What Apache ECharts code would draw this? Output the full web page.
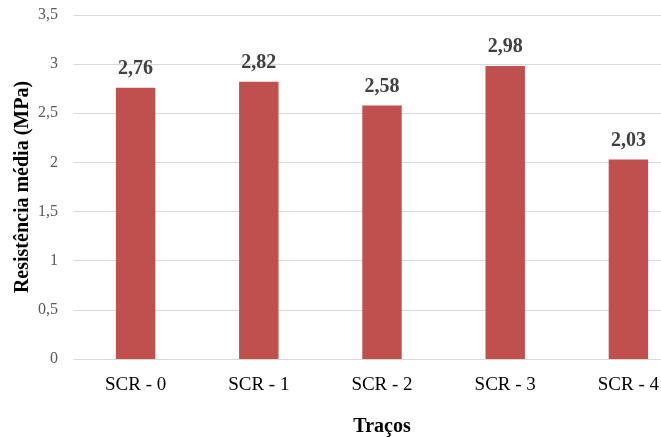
<!DOCTYPE html>
<html>
<head>
<meta charset="utf-8">
<script src="https://cdn.jsdelivr.net/npm/echarts@6/dist/echarts.min.js"></script>
<style>
html,body{margin:0;padding:0;background:#fff;overflow:hidden;width:661px;height:437px;}
#chart{width:690px;height:437px;}
</style>
</head>
<body>
<div id="chart"></div>
<script>
const categories = ["SCR - 0", "SCR - 1", "SCR - 2", "SCR - 3", "SCR - 4"];
const values = [2.76, 2.82, 2.58, 2.98, 2.03];
const yTicks = [0, 0.5, 1, 1.5, 2, 2.5, 3, 3.5];
const xTitle = "Traços";
const yTitle = "Resistência média (MPa)";

const serif = '"Liberation Serif", "DejaVu Serif", serif';
const fmt = v => String(v).replace('.', ',');

const chart = echarts.init(document.getElementById('chart'), null, {renderer: 'canvas'});
chart.setOption({
  animation: false,
  backgroundColor: '#ffffff',
  grid: {left: 74, top: 15, bottom: 78, right: 0, containLabel: false, outerBoundsMode: 'none'},
  xAxis: {
    type: 'category',
    data: categories,
    axisLine: {show: true, lineStyle: {color: '#d9d9d9', width: 1}},
    axisTick: {show: false},
    axisLabel: {fontFamily: serif, fontSize: 19, color: '#000000', margin: 17},
    name: xTitle,
    nameLocation: 'middle',
    nameMoveOverlap: false,
    nameGap: 58,
    nameTextStyle: {fontFamily: serif, fontSize: 20, fontWeight: 'bold', color: '#000000'}
  },
  yAxis: {
    type: 'value',
    min: yTicks[0],
    max: yTicks[yTicks.length - 1],
    interval: 0.5,
    axisLine: {show: false},
    axisTick: {show: false},
    splitLine: {lineStyle: {color: '#d9d9d9', width: 1}},
    axisLabel: {fontFamily: serif, fontSize: 16, color: '#595959', margin: 16, formatter: v => fmt(v)},
    name: yTitle,
    nameLocation: 'middle',
    nameMoveOverlap: false,
    nameGap: 41,
    nameTextStyle: {fontFamily: serif, fontSize: 20, fontWeight: 'bold', color: '#000000'}
  },
  series: [{
    type: 'bar',
    data: values,
    barWidth: '32%',
    itemStyle: {color: '#C0504D'},
    label: {
      show: true,
      position: 'top',
      distance: 9,
      fontFamily: serif,
      fontSize: 20,
      fontWeight: 'bold',
      color: '#404040',
      formatter: p => fmt(p.value.toFixed(2))
    }
  }]
});
</script>
</body>
</html>
